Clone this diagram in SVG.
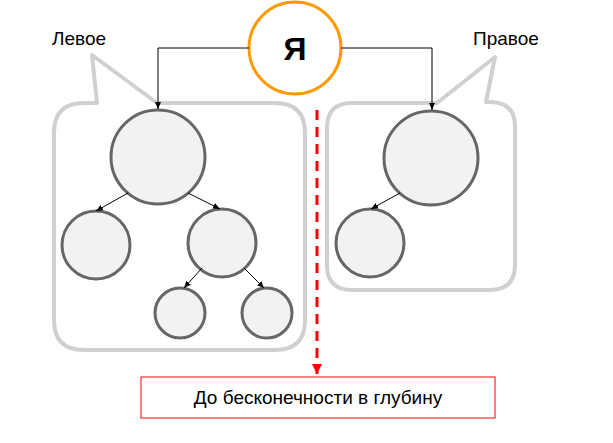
<svg xmlns="http://www.w3.org/2000/svg" width="613" height="443" viewBox="0 0 613 443">
<style>
text{font-family:"Liberation Sans",Arial,sans-serif;font-size:19px;fill:#000}
.bub{fill:none;stroke:#d0d0d0;stroke-width:4;stroke-linejoin:round}
.n{fill:#f2f2f2;stroke:#666;stroke-width:3}
.c{fill:none;stroke:#000;stroke-width:1}
</style>
<defs>
<marker id="a" markerWidth="8" markerHeight="8" refX="7" refY="4" orient="auto" markerUnits="userSpaceOnUse"><path d="M0,1 L7,4 L0,7 Z" fill="#000"/></marker>
<marker id="r" markerWidth="12" markerHeight="12" refX="10" refY="6" orient="auto" markerUnits="userSpaceOnUse"><path d="M0,1 L10,6 L0,11 Z" fill="#f00"/></marker>
</defs>
<g id="bubble-left"><path class="bub" d="M97,103 L92,55 L157,103 H275 Q305,103 305,133 V320 Q305,350 275,350 H84 Q54,350 54,320 V133 Q54,103 84,103 Z"/></g>
<g id="bubble-right"><path class="bub" d="M437,103 L495,57 L486,102 H490 Q515,102 515,127 V265 Q515,290 490,290 H352 Q327,290 327,265 V128 Q327,103 352,103 Z"/></g>
<text x="52" y="45">Левое</text>
<text x="473" y="45">Правое</text>
<g id="me"><circle cx="295" cy="48" r="46" fill="#fff" stroke="#ff9900" stroke-width="3"/><text x="295" y="60" text-anchor="middle" style="font-size:32px;font-weight:bold">Я</text></g>
<g id="l0"><circle class="n" cx="158" cy="157" r="47"/></g>
<g id="l1"><circle class="n" cx="96" cy="245" r="34"/></g>
<g id="l2"><circle class="n" cx="222" cy="243" r="34"/></g>
<g id="l3"><circle class="n" cx="180" cy="313" r="25"/></g>
<g id="l4"><circle class="n" cx="267" cy="313" r="25"/></g>
<g id="r0"><circle class="n" cx="431" cy="158" r="47"/></g>
<g id="r1"><circle class="n" cx="370" cy="243" r="34"/></g>
<g id="connectors">
<path class="c" d="M249,48 H158 V109" marker-end="url(#a)"/>
<path class="c" d="M341,48 H432 V110" marker-end="url(#a)"/>
<path class="c" d="M128,193 L96,211" marker-end="url(#a)"/>
<path class="c" d="M188,193 L220,209" marker-end="url(#a)"/>
<path class="c" d="M202,268 L184,288" marker-end="url(#a)"/>
<path class="c" d="M244,268 L264,288" marker-end="url(#a)"/>
<path class="c" d="M400,193 L371,209" marker-end="url(#a)"/>
<path d="M317,110 V374" stroke="#f00" stroke-width="3" stroke-dasharray="10,7" fill="none" marker-end="url(#r)"/>
</g>
<g id="box"><rect x="141" y="377" width="354" height="41" fill="#fff" stroke="#f00" stroke-width="1"/><text x="318" y="404" text-anchor="middle">До бесконечности в глубину</text></g>
</svg>
